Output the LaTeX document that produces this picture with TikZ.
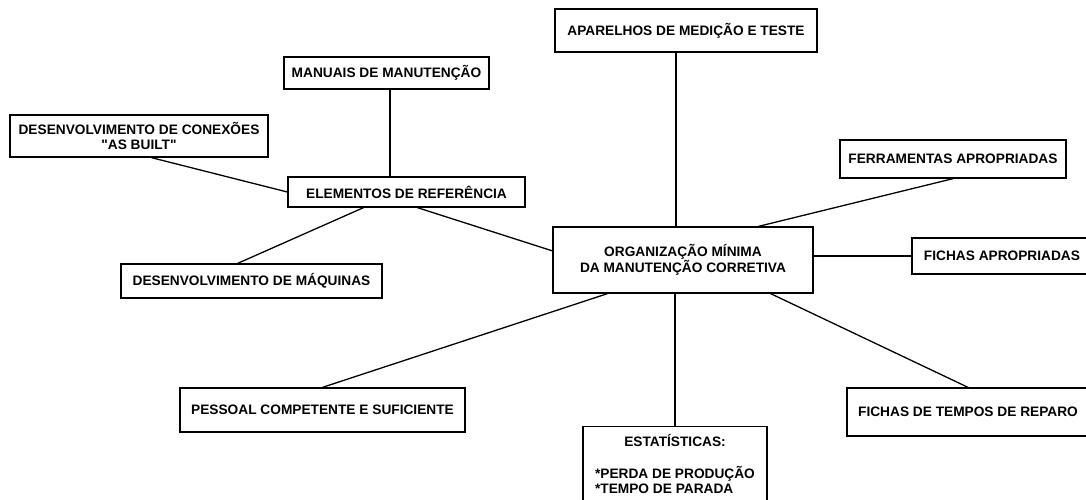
\documentclass[tikz,border=0pt]{standalone}
\usepackage{fontspec}
\setmainfont{Liberation Sans}[Ligatures=TeXOff]
\begin{document}
\begin{tikzpicture}[x=1pt, y=-1pt,
  caixa/.style={draw, line width=1.3pt, inner sep=0pt, align=center,
    font=\bfseries\fontsize{13.7}{15}\selectfont},
  liga/.style={draw, line width=1.3pt}]
\useasboundingbox (0,0) rectangle (1086,500);
\node[caixa, minimum width=262pt, minimum height=43pt] (aparelhos) at (686,30.5) {APARELHOS DE MEDIÇÃO E TESTE};
\node[caixa, minimum width=205pt, minimum height=32pt] (manuais) at (386.5,73) {MANUAIS DE MANUTENÇÃO};
\node[caixa, minimum width=258pt, minimum height=42pt] (conexoes) at (139,136) {DESENVOLVIMENTO DE CONEXÕES\\"AS BUILT"};
\node[caixa, minimum width=237pt, minimum height=30pt] (elementos) at (406.5,192) {ELEMENTOS DE REFERÊNCIA};
\node[caixa, minimum width=261pt, minimum height=34pt] (maquinas) at (251.5,281) {DESENVOLVIMENTO DE MÁQUINAS};
\node[caixa, minimum width=226pt, minimum height=38pt] (ferramentas) at (953,159) {FERRAMENTAS APROPRIADAS};
\node[caixa, minimum width=260pt, minimum height=66pt] (org) at (683,260) {ORGANIZAÇÃO MÍNIMA\\DA MANUTENÇÃO CORRETIVA};
\node[caixa, minimum width=180pt, minimum height=36pt] (fichasap) at (1002,256) {FICHAS APROPRIADAS};
\node[caixa, minimum width=285pt, minimum height=44pt] (pessoal) at (322.5,410) {PESSOAL COMPETENTE E SUFICIENTE};
\node[caixa, minimum width=184pt, inner ysep=8pt, anchor=north] (estat) at (675,426)
  {\begin{tabular}{@{}l@{}}\multicolumn{1}{@{}c@{}}{ESTATÍSTICAS:}\\ \\ {*}PERDA DE PRODUÇÃO\\ {*}TEMPO DE PARADA\end{tabular}};
\node[caixa, minimum width=242pt, minimum height=48pt] (tempos) at (968,412) {FICHAS DE TEMPOS DE REPARO};

\path[liga] ([xshift=-7pt]org.north) -- ([xshift=-7pt]org.north |- aparelhos.south);
\path[liga] ([xshift=3.5pt]manuais.south) -- ([xshift=3.5pt]manuais.south |- elementos.north);
\path[liga] (conexoes.-60) -- (elementos.west);
\path[liga] (maquinas.128) -- (elementos.200);
\path[liga] (elementos.305) -- (org.176);
\path[liga] (ferramentas.south) -- (org.24);
\path[liga] (fichasap.west -| org.east) -- (fichasap.west);
\path[liga] (pessoal.north) -- (org.204);
\path[liga] (estat.north) -- (estat.north |- org.south);
\path[liga] (tempos.north) -- (org.339);
\end{tikzpicture}
\end{document}
